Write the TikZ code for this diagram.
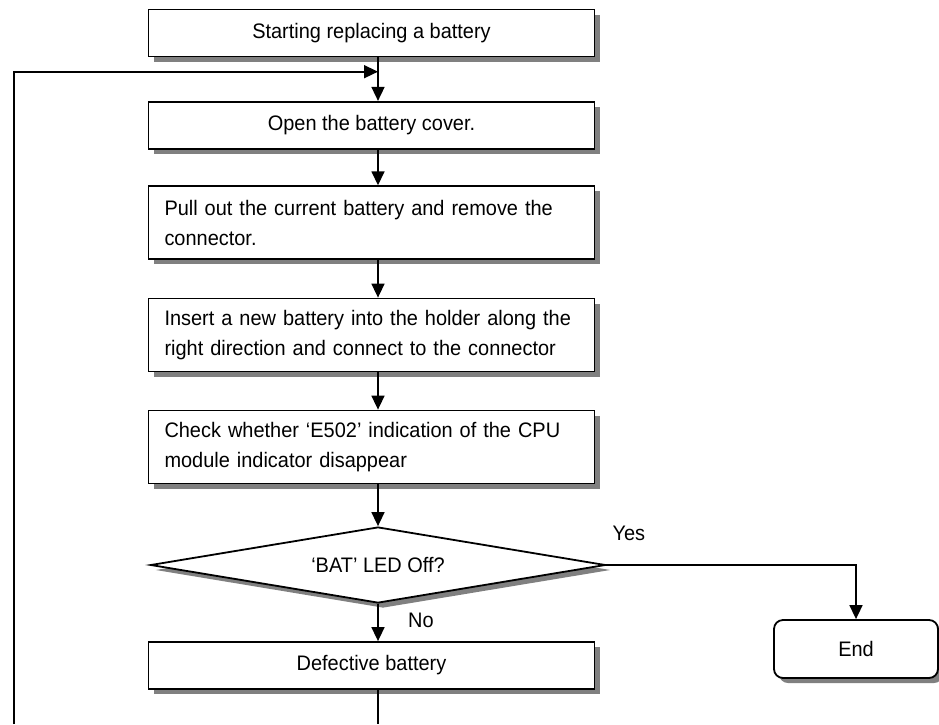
\documentclass[tikz,border=0pt]{standalone}
\usepackage{fontspec}
\setmainfont{Liberation Sans}[FakeStretch=0.95]
\usetikzlibrary{arrows.meta,shapes.geometric,shadows}
\tikzstyle{format}=[rectangle,draw,line width=1.8pt,fill=white,minimum width=446pt,minimum height=47pt,drop shadow={shadow xshift=5pt,shadow yshift=-5pt,fill=gray,opacity=1}]
\tikzstyle{twoline}=[format,text width=414pt,inner xsep=16pt,align=left,minimum height=73pt]
\tikzstyle{decision}=[diamond,draw,line width=1.8pt,fill=white,aspect=6,inner sep=0pt,minimum width=455pt,minimum height=76pt,drop shadow={shadow xshift=5pt,shadow yshift=-5pt,fill=gray,opacity=1}]
\tikzstyle{terminal}=[format,rounded corners=9pt,minimum width=164pt,minimum height=58pt]
\tikzstyle{point}=[coordinate]
\tikzstyle{conn}=[line width=1.6pt]

\begin{document}
\begin{tikzpicture}[>={Triangle[length=14pt,width=13pt]},font=\fontsize{21pt}{30pt}\selectfont]
  \useasboundingbox (0,0) rectangle (939pt,-724pt);
  %boxes, top to bottom
  \node[format] (start) at (371.5pt,-33pt) {Starting replacing a battery};
  \node[format,below of=start,node distance=92.3pt] (opencover) {Open the battery cover.};
  \node[twoline,below of=opencover,node distance=97.4pt] (pullout) {Pull out the current battery and remove the\\connector.};
  \node[twoline,below of=pullout,node distance=112.3pt] (insert) {Insert a new battery into the holder along the\\right direction and connect to the connector};
  \node[twoline,below of=insert,node distance=112pt] (check) {Check whether ‘E502’ indication of the CPU\\module indicator disappear};
  \node[decision,below of=check,node distance=118pt,xshift=6.5pt] (batled) {‘BAT’ LED Off?};
  \node[format,below of=batled,node distance=100.5pt,xshift=-6.5pt] (defect) {Defective battery};
  \node[terminal] (finish) at (856pt,-649pt) {End};
  %loop back points
  \node[point] (p0) at (14pt,-724pt) {};
  \node[point] (p1) at (batled |- 0,-71.7pt) {};
  \draw[->,conn] (start.south -| batled) -- (opencover.north -| batled);
  \draw[->,conn] (opencover.south -| batled) -- (pullout.north -| batled);
  \draw[->,conn] (pullout.south -| batled) -- (insert.north -| batled);
  \draw[->,conn] (insert.south -| batled) -- (check.north -| batled);
  \draw[->,conn] (check.south -| batled) -- (batled.north);
  \draw[->,conn] (batled.south) -- node[pos=0.44,right=26pt]{No} (defect.north -| batled);
  \draw[->,conn] (batled.east) -| node[pos=0.045,above=20pt]{Yes} (finish.north);
  \draw[conn] (defect.south -| batled) -- (batled |- p0);
  \draw[->,conn] (p0) |- (p1);
\end{tikzpicture}
\end{document}
